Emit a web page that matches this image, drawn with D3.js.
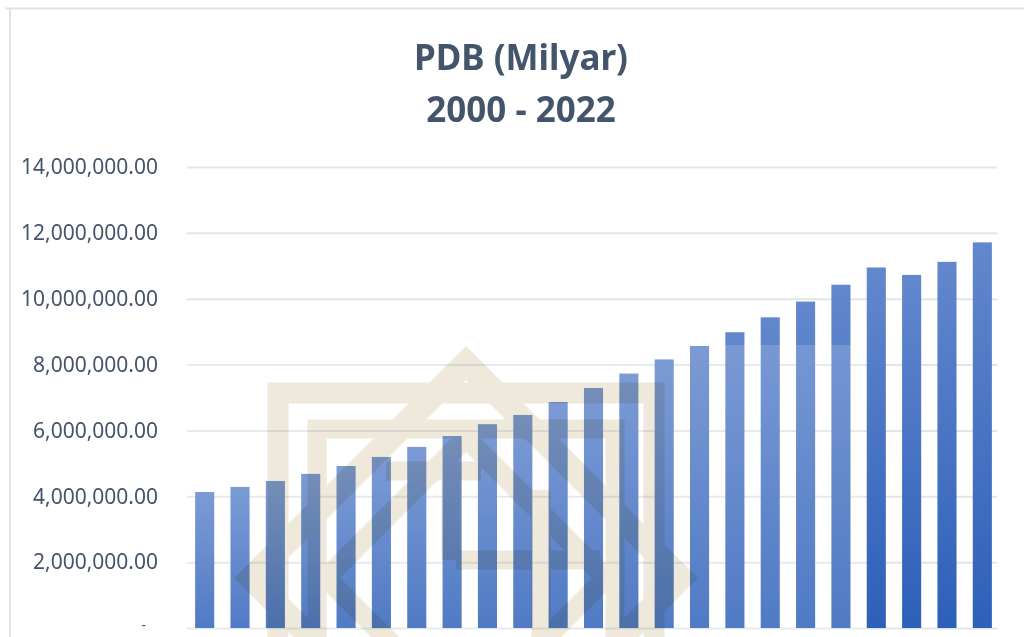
<!DOCTYPE html>
<html>
<head>
<meta charset="utf-8">
<script src="https://cdn.jsdelivr.net/npm/d3@7/dist/d3.min.js"></script>
<style>
  body { margin: 0; background: #fff; }
  svg { display: block; }
</style>
</head>
<body>
<div id="chart"></div>
<script>
const years = ['2000', '2001', '2002', '2003', '2004', '2005', '2006', '2007', '2008', '2009', '2010', '2011',
    '2012', '2013', '2014', '2015', '2016', '2017', '2018', '2019', '2020', '2021', '2022'];
const pdb = [4130000, 4285000, 4465000, 4680000, 4920000, 5195000, 5500000, 5830000, 6190000, 6470000,
    6864133, 7287635, 7727083, 8156498, 8564867, 8982517, 9434613, 9912928, 10425852, 10949155,
    10723055, 11120078, 11710398];
const yTicks = [0, 2000000, 4000000, 6000000, 8000000, 10000000, 12000000, 14000000];
const titleLines = ['PDB (Milyar)', '2000 - 2022'];

const width = 1024;
const height = 637;
const textColor = '#44546a';

const svg = d3.select('#chart').append('svg')
    .attr('width', width)
    .attr('height', height);

const defs = svg.append('defs');
const grad = defs.append('linearGradient')
    .attr('id', 'barGrad')
    .attr('x1', 0).attr('y1', 0).attr('x2', 0).attr('y2', 1);
grad.append('stop').attr('offset', '0%').attr('stop-color', '#6287cd');
grad.append('stop').attr('offset', '100%').attr('stop-color', '#2d60b9');

// chart frame (top and left edges visible)
svg.append('line')
    .attr('x1', 5).attr('x2', width).attr('y1', 8.5).attr('y2', 8.5)
    .attr('stroke', '#dfe3e8').attr('stroke-width', 2);
svg.append('line')
    .attr('x1', 10).attr('x2', 10).attr('y1', 8).attr('y2', height)
    .attr('stroke', '#dfe3e8').attr('stroke-width', 2);

// title
svg.append('g')
    .selectAll('text')
    .data(titleLines)
    .enter().append('text')
    .attr('x', 521)
    .attr('y', (d, i) => 70 + i * 52)
    .attr('text-anchor', 'middle')
    .attr('font-family', '"Noto Sans", sans-serif')
    .attr('font-weight', 'bold')
    .attr('font-size', 35)
    .attr('fill', textColor)
    .text(d => d);

const x = d3.scaleBand()
    .domain(years)
    .range([187, 1000])
    .paddingInner(0.46)
    .paddingOuter(0.23);

const y = d3.scaleLinear()
    .domain([0, 14000000])
    .range([628, 167]);

// gridlines
const grid = svg.append('g')
    .attr('transform', 'translate(187,0)')
    .call(d3.axisLeft(y).tickValues(yTicks).tickSize(-810).tickFormat(''));
grid.select('.domain').remove();
grid.selectAll('line').attr('stroke', '#e1e5eb').attr('stroke-width', 2);

// y axis labels
const fmt = d3.format(',.2f');
const yAxis = svg.append('g')
    .attr('transform', 'translate(158,0)')
    .call(d3.axisLeft(y).tickValues(yTicks).tickSize(0).tickPadding(0)
        .tickFormat(d => d === 0 ? '-' : fmt(d)));
yAxis.select('.domain').remove();
yAxis.selectAll('text')
    .attr('font-family', '"Noto Sans", sans-serif')
    .attr('font-size', d => d === 0 ? 14 : 21)
    .attr('fill', textColor)
    .attr('dx', d => d === 0 ? -12 : 0)
    .attr('dy', d => d === 0 ? '0.12em' : '0.32em');

// bars
svg.append('g')
    .selectAll('rect')
    .data(years)
    .enter().append('rect')
    .attr('x', d => x(d))
    .attr('width', x.bandwidth())
    .attr('y', (d, i) => y(pdb[i]))
    .attr('height', (d, i) => y(0) - y(pdb[i]))
    .attr('fill', 'url(#barGrad)');

// watermark: faint box plus beige knot pattern
svg.append('rect')
    .attr('x', 180).attr('y', 345)
    .attr('width', 685).attr('height', height - 345)
    .attr('fill', '#fff').attr('opacity', 0.17);

const wm = svg.append('g')
    .style('mix-blend-mode', 'multiply')
    .attr('fill', 'none')
    .attr('stroke', '#efe9dc');

const cx = 466, cy = 578;
function diamond(r) {
    return `M${cx},${cy - r}L${cx + r},${cy}L${cx},${cy + r}L${cx - r},${cy}Z`;
}
wm.append('path').attr('d', diamond(215)).attr('stroke-width', 24);
wm.append('path').attr('d', diamond(140)).attr('stroke-width', 20);
wm.append('rect').attr('x', 278).attr('y', 393).attr('width', 376).attr('height', 376).attr('stroke-width', 21);
wm.append('rect').attr('x', 317).attr('y', 429).attr('width', 298).attr('height', 298).attr('stroke-width', 19);
wm.append('path').attr('d', `M386,471H481M451,471V560M456,560H600M541,490V640`).attr('stroke-width', 19);
</script>
</body>
</html>
